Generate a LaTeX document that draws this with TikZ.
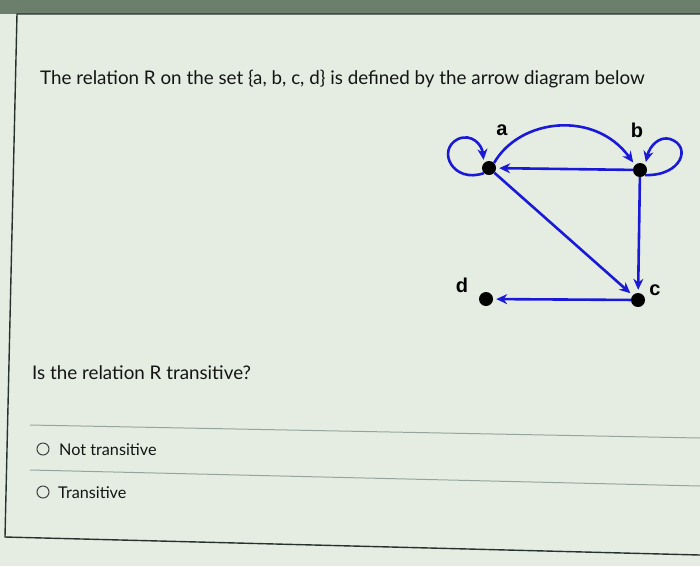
\documentclass[tikz,border=0pt]{standalone}
\usepackage{fontspec}
\setmainfont{Lato}
\newfontfamily\lblfont{Liberation Sans}
\usetikzlibrary{arrows.meta}
\definecolor{bgc}{RGB}{229,237,227}
\definecolor{bandc}{RGB}{108,126,108}
\definecolor{framec}{RGB}{40,50,45}
\definecolor{edgec}{RGB}{25,25,215}
\definecolor{sepc}{RGB}{150,165,155}
\definecolor{txtc}{RGB}{20,20,20}
\tikzset{
  vtx/.style={circle,fill=black,inner sep=0pt,minimum size=14pt},
  vlbl/.style={font=\lblfont\bfseries\fontsize{20}{22}\selectfont,inner sep=0pt},
  edge/.style={draw=edgec,line width=2.6pt,-{Stealth[length=11pt,width=10pt]},shorten >=3pt},
  qtext/.style={anchor=base west,inner sep=0pt,text=txtc,font=\fontsize{18.8}{22}\selectfont},
  otext/.style={anchor=base west,inner sep=0pt,text=txtc,font=\fontsize{16.2}{19}\selectfont},
  radio/.style={circle,draw=black!75,line width=1pt,minimum size=12pt,inner sep=0pt},
}
\begin{document}
\begin{tikzpicture}[x=1pt,y=-1pt]
\useasboundingbox (0,0) rectangle (700,566);
\fill[bgc] (0,0) rectangle (700,566);
\fill[bandc] (0,0) rectangle (700,14);
% frame
\draw[framec,line width=1.4pt] (700,14) -- (17,14) -- (5,537) -- (700,555);
% separators
\draw[sepc,line width=1pt] (30,425) -- (700,438);
\draw[sepc,line width=1pt] (30,470) -- (700,486);
% texts
\node[qtext] (title) at (40,84) {The relation R on the set \{a, b, c, d\} is defined by the arrow diagram below};
\node[qtext] (question) at (32,379) {Is the relation R transitive?};
\node[radio] (r1) at (43,449) {};
\node[otext] (o1) at (59,455) {Not transitive};
\node[radio] (r2) at (43,492) {};
\node[otext] (o2) at (58,498) {Transitive};
% vertices
\node[vtx] (a) at (489,168) {};
\node[vtx] (b) at (640,170) {};
\node[vtx] (c) at (638,300) {};
\node[vtx] (d) at (486,299) {};
\node[vlbl] (la) at (502,130) {a};
\node[vlbl] (lb) at (637,130) {b};
\node[vlbl] (lc) at (655,290) {c};
\node[vlbl] (ld) at (462,285) {d};
% edges
\draw[edge] (a.south west) .. controls (453,184) and (436,150) .. (458,139) .. controls (472,133) and (482,145) .. (a.north west);
\draw[edge] (b.south east) .. controls (682,176) and (692,146) .. (670,139) .. controls (660,136) and (650,145) .. (b.north east);
\draw[edge] (a.north east) .. controls (520,118) and (595,110) .. (b.north west);
\draw[edge] (b) -- (a);
\draw[edge] (a) -- (c);
\draw[edge] (b) -- (c);
\draw[edge] (c) -- (d);
\end{tikzpicture}
\end{document}
